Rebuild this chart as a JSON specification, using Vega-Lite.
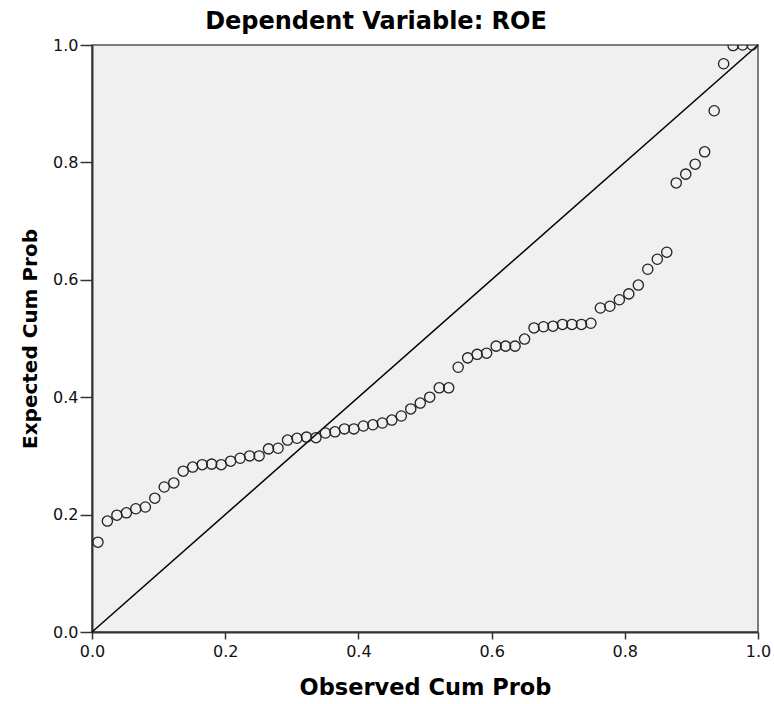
{
  "$schema": "https://vega.github.io/schema/vega-lite/v6.json",
  "width": 666,
  "height": 587,
  "autosize": {"type": "none"},
  "padding": {"left": 92, "top": 45, "right": 16, "bottom": 72},
  "background": "white",
  "config": {
    "view": {"fill": "#f0f0f0", "stroke": "#555555", "strokeWidth": 1.5},
    "font": "DejaVu Sans"
  },
  "title": {
    "text": "Dependent Variable: ROE",
    "font": "DejaVu Sans",
    "fontSize": 24,
    "fontWeight": "bold",
    "color": "#000000",
    "anchor": "middle",
    "dx": -49,
    "offset": 3
  },
  "datasets": {
    "pts": [
      {"obs": 0.0089, "exp": 0.153},
      {"obs": 0.0231, "exp": 0.189},
      {"obs": 0.0374, "exp": 0.199},
      {"obs": 0.0516, "exp": 0.203},
      {"obs": 0.0658, "exp": 0.210},
      {"obs": 0.0801, "exp": 0.213},
      {"obs": 0.0943, "exp": 0.228},
      {"obs": 0.1085, "exp": 0.247},
      {"obs": 0.1228, "exp": 0.254},
      {"obs": 0.1370, "exp": 0.274},
      {"obs": 0.1512, "exp": 0.281},
      {"obs": 0.1655, "exp": 0.285},
      {"obs": 0.1797, "exp": 0.286},
      {"obs": 0.1940, "exp": 0.285},
      {"obs": 0.2082, "exp": 0.291},
      {"obs": 0.2224, "exp": 0.296},
      {"obs": 0.2367, "exp": 0.300},
      {"obs": 0.2509, "exp": 0.300},
      {"obs": 0.2651, "exp": 0.312},
      {"obs": 0.2794, "exp": 0.313},
      {"obs": 0.2936, "exp": 0.327},
      {"obs": 0.3078, "exp": 0.330},
      {"obs": 0.3221, "exp": 0.332},
      {"obs": 0.3363, "exp": 0.331},
      {"obs": 0.3505, "exp": 0.339},
      {"obs": 0.3648, "exp": 0.341},
      {"obs": 0.3790, "exp": 0.346},
      {"obs": 0.3932, "exp": 0.346},
      {"obs": 0.4075, "exp": 0.351},
      {"obs": 0.4217, "exp": 0.353},
      {"obs": 0.4359, "exp": 0.356},
      {"obs": 0.4502, "exp": 0.361},
      {"obs": 0.4644, "exp": 0.368},
      {"obs": 0.4786, "exp": 0.380},
      {"obs": 0.4929, "exp": 0.390},
      {"obs": 0.5071, "exp": 0.400},
      {"obs": 0.5214, "exp": 0.416},
      {"obs": 0.5356, "exp": 0.416},
      {"obs": 0.5498, "exp": 0.451},
      {"obs": 0.5641, "exp": 0.467},
      {"obs": 0.5783, "exp": 0.473},
      {"obs": 0.5925, "exp": 0.475},
      {"obs": 0.6068, "exp": 0.487},
      {"obs": 0.6210, "exp": 0.487},
      {"obs": 0.6352, "exp": 0.487},
      {"obs": 0.6495, "exp": 0.499},
      {"obs": 0.6637, "exp": 0.518},
      {"obs": 0.6779, "exp": 0.520},
      {"obs": 0.6922, "exp": 0.521},
      {"obs": 0.7064, "exp": 0.524},
      {"obs": 0.7206, "exp": 0.524},
      {"obs": 0.7349, "exp": 0.524},
      {"obs": 0.7491, "exp": 0.526},
      {"obs": 0.7633, "exp": 0.552},
      {"obs": 0.7776, "exp": 0.555},
      {"obs": 0.7918, "exp": 0.566},
      {"obs": 0.8060, "exp": 0.576},
      {"obs": 0.8203, "exp": 0.591},
      {"obs": 0.8345, "exp": 0.618},
      {"obs": 0.8488, "exp": 0.635},
      {"obs": 0.8630, "exp": 0.647},
      {"obs": 0.8772, "exp": 0.765},
      {"obs": 0.8915, "exp": 0.780},
      {"obs": 0.9057, "exp": 0.797},
      {"obs": 0.9199, "exp": 0.818},
      {"obs": 0.9342, "exp": 0.888},
      {"obs": 0.9484, "exp": 0.968},
      {"obs": 0.9626, "exp": 0.999},
      {"obs": 0.9769, "exp": 1.0},
      {"obs": 0.9911, "exp": 1.0}
    ],
    "diag": [
      {"x": 0, "y": 0, "x2": 1, "y2": 1}
    ]
  },
  "layer": [
    {
      "data": {"name": "diag"},
      "mark": {"type": "rule", "color": "#000000", "strokeWidth": 1.5},
      "encoding": {
        "x": {"field": "x", "type": "quantitative", "scale": {"domain": [0, 1], "nice": false}},
        "y": {"field": "y", "type": "quantitative", "scale": {"domain": [0, 1], "nice": false}},
        "x2": {"field": "x2"},
        "y2": {"field": "y2"}
      }
    },
    {
      "data": {"name": "pts"},
      "mark": {"type": "point", "shape": "circle", "filled": false, "stroke": "#222222", "strokeWidth": 1.3, "size": 105, "opacity": 1, "clip": true},
      "encoding": {
        "x": {
          "field": "obs",
          "type": "quantitative",
          "scale": {"domain": [0, 1], "nice": false},
          "axis": {
            "title": "Observed Cum Prob",
            "values": [0, 0.2, 0.4, 0.6, 0.8, 1.0],
            "format": ".1f",
            "grid": false,
            "domainColor": "#333333",
            "domainWidth": 2,
            "tickColor": "#333333",
            "tickWidth": 1.5,
            "tickSize": 7,
            "labelFont": "DejaVu Sans",
            "labelFontSize": 16,
            "labelColor": "#111111",
            "labelPadding": 4,
            "labelFlush": false,
            "titleFont": "DejaVu Sans",
            "titleFontSize": 22.5,
            "titleFontWeight": "bold",
            "titleColor": "#000000",
            "titlePadding": 17
          }
        },
        "y": {
          "field": "exp",
          "type": "quantitative",
          "scale": {"domain": [0, 1], "nice": false},
          "axis": {
            "title": "Expected Cum Prob",
            "values": [0, 0.2, 0.4, 0.6, 0.8, 1.0],
            "format": ".1f",
            "grid": false,
            "domainColor": "#333333",
            "domainWidth": 2,
            "tickColor": "#333333",
            "tickWidth": 1.5,
            "tickSize": 12,
            "labelFont": "DejaVu Sans",
            "labelFontSize": 16,
            "labelColor": "#111111",
            "labelPadding": 2,
            "labelFlush": false,
            "titleFont": "DejaVu Sans",
            "titleFontSize": 20,
            "titleFontWeight": "bold",
            "titleColor": "#000000",
            "titlePadding": 12
          }
        }
      }
    }
  ]
}
